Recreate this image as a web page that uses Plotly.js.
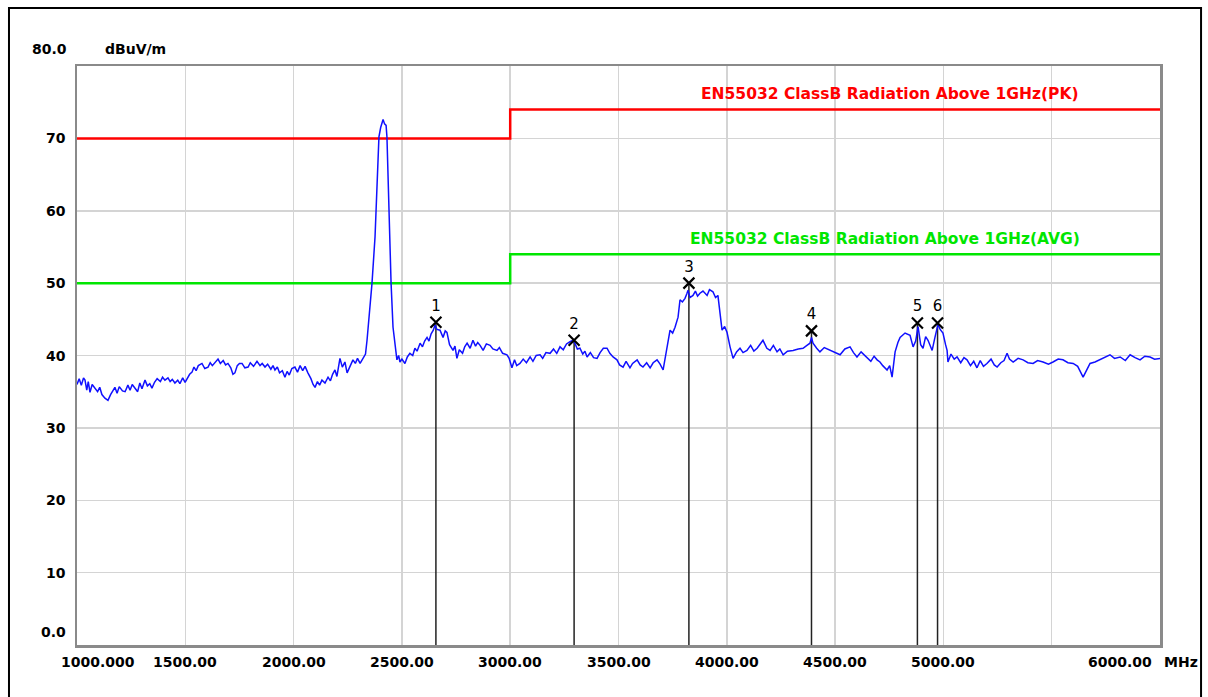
<!DOCTYPE html>
<html>
<head>
<meta charset="utf-8">
<script src="https://cdn.plot.ly/plotly-3.0.1.min.js"></script>
<style>html,body{margin:0;padding:0;background:#fff;}#chart{width:1208px;height:697px;}</style>
</head>
<body>
<div id="chart"></div>
<script>
// ---- data (MHz, dBuV/m) ----
const traceFreq = [1000,1010,1020,1030,1037,1045,1052,1060,1070,1083,1095,1105,1115,1129,1143,1155,1165,1175,1185,1195,1210,1222,1235,1245,1255,1268,1280,1290,1300,1314,1325,1336,1346,1358,1370,1385,1395,1406,1420,1430,1440,1452,1465,1475,1488,1499,1510,1520,1531,1540,1550,1560,1577,1590,1605,1615,1625,1640,1651,1662,1675,1686,1697,1710,1720,1729,1740,1750,1762,1775,1790,1800,1815,1831,1845,1855,1868,1880,1895,1905,1914,1925,1935,1948,1960,1970,1980,1992,2006,2018,2030,2042,2053,2066,2080,2090,2099,2110,2120,2131,2145,2159,2170,2180,2191,2200,2205,2214,2225,2237,2247,2260,2274,2285,2295,2307,2318,2325,2332,2339,2350,2362,2376,2385,2394,2402,2408,2413,2420,2427,2431,2436,2440,2450,2459,2468,2477,2485,2491,2500,2514,2525,2537,2550,2560,2570,2584,2595,2605,2616,2625,2635,2645,2653,2662,2676,2690,2700,2708,2720,2736,2745,2754,2765,2780,2790,2801,2815,2828,2840,2850,2861,2875,2890,2907,2920,2939,2950,2965,2985,2995,3008,3020,3030,3045,3060,3075,3092,3105,3120,3138,3150,3165,3184,3200,3215,3230,3245,3260,3276,3290,3300,3310,3322,3335,3345,3355,3370,3385,3401,3415,3430,3447,3460,3475,3493,3505,3521,3535,3553,3565,3586,3600,3613,3630,3646,3660,3678,3692,3706,3715,3724,3738,3750,3761,3775,3784,3795,3807,3815,3821,3830,3844,3855,3865,3876,3890,3909,3920,3936,3948,3959,3968,3978,3990,4001,4015,4029,4045,4061,4075,4093,4110,4125,4140,4155,4167,4185,4200,4215,4232,4245,4260,4280,4306,4330,4352,4370,4384,4391,4398,4415,4430,4450,4477,4500,4523,4545,4569,4585,4601,4620,4647,4665,4680,4694,4707,4720,4740,4752,4763,4777,4790,4800,4823,4846,4860,4872,4883,4895,4906,4918,4929,4948,4961,4975,4985,4998,5010,5017,5021,5035,5050,5063,5080,5095,5109,5125,5140,5155,5170,5185,5201,5220,5235,5248,5265,5280,5294,5305,5322,5345,5368,5390,5414,5435,5460,5485,5506,5530,5552,5575,5599,5620,5645,5660,5677,5700,5723,5745,5769,5790,5816,5840,5862,5885,5908,5930,5954,5975,6000];
const traceLevel = [36.0,36.8,35.9,36.9,36.6,35.2,36.4,34.9,36.0,35.5,35.0,35.6,34.6,34.1,33.8,34.6,35.2,35.6,34.8,35.7,35.1,35.0,35.9,35.2,36.0,35.5,35.0,36.2,35.4,36.6,35.8,36.1,35.5,36.3,36.8,36.4,37.0,36.6,36.9,36.4,36.7,36.2,36.6,36.1,36.9,36.3,36.8,37.4,37.7,38.4,37.9,38.6,38.9,38.2,38.4,39.0,38.6,39.2,39.5,38.9,39.3,38.7,38.9,38.3,37.4,37.6,38.6,38.9,38.9,38.3,38.4,39.0,38.5,39.2,38.6,38.9,38.4,38.8,38.1,38.6,38.0,38.4,37.6,37.9,37.0,37.8,37.3,38.2,38.4,37.7,38.6,37.9,38.5,37.6,36.8,36.0,35.6,36.4,35.9,36.6,36.2,37.0,36.5,37.4,38.0,37.1,38.2,39.6,38.4,39.1,37.6,38.5,39.4,38.9,39.6,38.9,39.5,39.8,40.2,42.1,46.0,50.0,56.4,64.6,70.2,71.5,72.1,72.6,72.0,71.8,70.2,65.0,59.7,50.0,43.9,41.2,39.4,40.0,39.1,39.5,38.9,39.8,40.3,40.0,41.0,40.6,41.7,41.2,42.0,42.5,42.0,43.0,43.5,44.2,43.6,43.5,42.5,43.4,43.2,41.5,40.7,41.3,39.6,40.8,40.3,41.2,41.7,41.0,42.1,41.3,41.8,41.4,40.7,41.6,41.4,40.9,40.7,41.1,40.3,40.1,39.6,38.3,39.4,38.6,38.9,39.5,39.0,39.8,39.2,40.0,40.1,39.6,40.4,40.3,40.9,40.3,41.2,40.8,41.6,41.9,42.1,41.6,40.9,41.0,40.2,40.6,39.8,40.4,39.7,39.6,40.4,41.0,41.0,40.3,39.8,39.4,38.7,38.4,39.2,38.3,38.9,39.4,38.7,38.4,39.0,38.3,39.0,39.4,38.8,38.0,39.5,41.2,43.5,43.1,43.9,45.3,47.7,47.4,47.9,48.5,49.0,48.0,48.3,48.9,48.2,48.6,48.9,48.3,49.1,48.8,48.0,48.3,46.0,43.5,44.0,43.2,41.2,39.6,40.5,41.0,40.4,40.7,41.4,40.6,41.0,41.6,42.1,41.0,40.7,41.4,40.5,40.9,40.1,40.6,40.7,40.9,41.0,41.4,41.7,42.5,41.7,41.0,40.5,41.1,40.7,40.4,40.1,40.9,41.2,40.4,39.8,40.5,39.8,39.2,39.9,39.4,39.1,38.6,38.0,38.6,37.0,40.5,41.8,42.5,43.1,42.8,41.2,42.0,44.0,41.5,41.0,42.6,42.1,40.7,42.5,44.3,43.6,43.1,41.5,40.7,39.1,40.2,39.5,39.8,39.0,39.7,39.4,38.6,39.2,38.3,39.3,38.5,38.9,39.5,38.7,38.4,39.0,39.3,40.3,39.5,39.1,39.6,39.4,39.0,38.9,39.3,39.1,38.8,39.1,39.5,39.4,39.0,38.9,38.5,37.0,38.0,38.9,39.1,39.4,39.8,40.1,39.6,39.8,39.3,40.1,39.7,39.4,39.9,39.8,39.5,39.6];

const limitFreq = [1000, 3000, 6000];
const limitPK  = [70, 74, 74];
const limitAVG = [50, 54, 54];
const limitPKName  = "EN55032 ClassB Radiation Above 1GHz(PK)";
const limitAVGName = "EN55032 ClassB Radiation Above 1GHz(AVG)";

const markerFreq  = [2657, 3295, 3825, 4391, 4880, 4973];
const markerLevel = [44.6, 42.1, 50.0, 43.4, 44.5, 44.5];
const markerLabel = ["1", "2", "3", "4", "5", "6"];

const xTickVals = [1000, 1500, 2000, 2500, 3000, 3500, 4000, 4500, 5000, 6000];
const xTickText = ["1000.000", "1500.00", "2000.00", "2500.00", "3000.00", "3500.00", "4000.00", "4500.00", "5000.00", "6000.00"];
const yTickVals = [0, 10, 20, 30, 40, 50, 60, 70, 80];
const yTickText = ["0.0", "10", "20", "30", "40", "50", "60", "70", "80.0"];

// ---- build ----
const stemX = [], stemY = [];
markerFreq.forEach((f, i) => { stemX.push(f, f, null); stemY.push(0, markerLevel[i], null); });

const traces = [
  {x: limitFreq, y: limitPK, mode: 'lines', line: {color: '#ff0000', width: 2.5, shape: 'hv'}, hoverinfo: 'skip'},
  {x: limitFreq, y: limitAVG, mode: 'lines', line: {color: '#00e600', width: 2.5, shape: 'hv'}, hoverinfo: 'skip'},
  {x: stemX, y: stemY, mode: 'lines', line: {color: '#222222', width: 1.5}, hoverinfo: 'skip'},
  {x: traceFreq, y: traceLevel, mode: 'lines', line: {color: '#1010ff', width: 1.5}},
  {x: markerFreq, y: markerLevel, mode: 'markers+text', text: markerLabel, textposition: 'top center',
   textfont: {family: 'DejaVu Sans', size: 15, color: '#000'},
   marker: {symbol: 'x-thin-open', size: 11, color: '#000', line: {color: '#000', width: 2.2}}}
];

const lblFont = {family: 'DejaVu Sans', size: 14, color: '#000'};
const annotations = [];
xTickVals.forEach((v, i) => {
  let a = {x: v, y: 0, xref: 'x', yref: 'y', text: '<b>' + xTickText[i] + '</b>', showarrow: false,
           font: lblFont, xanchor: 'center', yanchor: 'top', yshift: -7};
  if (i === 0) { a.xanchor = 'left'; a.xshift = -18; }
  if (v === 6000) { a.xanchor = 'right'; a.xshift = -6; }
  annotations.push(a);
});
annotations.push({x: 1, y: 0, xref: 'paper', yref: 'y', text: '<b>MHz</b>', showarrow: false, font: lblFont,
                  xanchor: 'left', yanchor: 'top', yshift: -7, xshift: 2});
yTickVals.forEach((v, i) => {
  let a = {x: 0, y: v, xref: 'paper', yref: 'y', text: '<b>' + yTickText[i] + '</b>', showarrow: false,
           font: lblFont, xanchor: 'right', yanchor: 'middle', xshift: -9};
  if (v === 0) a.yshift = 13;
  if (v === 80) { a.yshift = 17; a.xshift = -8; }
  annotations.push(a);
});
annotations.push({x: 0, y: 80, xref: 'paper', yref: 'y', text: '<b>dBuV/m</b>', showarrow: false, font: lblFont,
                  xanchor: 'left', yanchor: 'middle', yshift: 17, xshift: 26});
annotations.push({x: 4754, y: limitPK[2], xref: 'x', yref: 'y', text: '<b>' + limitPKName + '</b>', showarrow: false,
                  font: {family: 'DejaVu Sans', size: 15.5, color: '#ff0000'}, xanchor: 'center', yanchor: 'bottom', yshift: 4});
annotations.push({x: 4730, y: limitAVG[2], xref: 'x', yref: 'y', text: '<b>' + limitAVGName + '</b>', showarrow: false,
                  font: {family: 'DejaVu Sans', size: 15.5, color: '#00e600'}, xanchor: 'center', yanchor: 'bottom', yshift: 4});

const layout = {
  width: 1208, height: 697,
  margin: {l: 77, r: 48, t: 66, b: 52},
  paper_bgcolor: '#fff', plot_bgcolor: '#fff',
  showlegend: false,
  xaxis: {range: [1000, 6000], tick0: 1000, dtick: 500, showticklabels: false, ticks: '',
          showgrid: true, gridcolor: '#d4d4d4', gridwidth: 1.5, zeroline: false,
          showline: true, mirror: true, linecolor: '#8a8a8a', linewidth: 2.5},
  yaxis: {range: [0, 80], dtick: 10, showticklabels: false, ticks: '',
          showgrid: true, gridcolor: '#d4d4d4', gridwidth: 1.5, zeroline: false,
          showline: true, mirror: true, linecolor: '#8a8a8a', linewidth: 2.5},
  annotations: annotations,
  shapes: [{type: 'rect', xref: 'paper', yref: 'paper', x0: -0.0628, x1: 1.0379, y0: -0.2, y1: 1.1002,
            line: {color: '#000', width: 2}, fillcolor: 'rgba(0,0,0,0)', layer: 'below'}]
};

Plotly.newPlot('chart', traces, layout, {staticPlot: true});
</script>
</body>
</html>
